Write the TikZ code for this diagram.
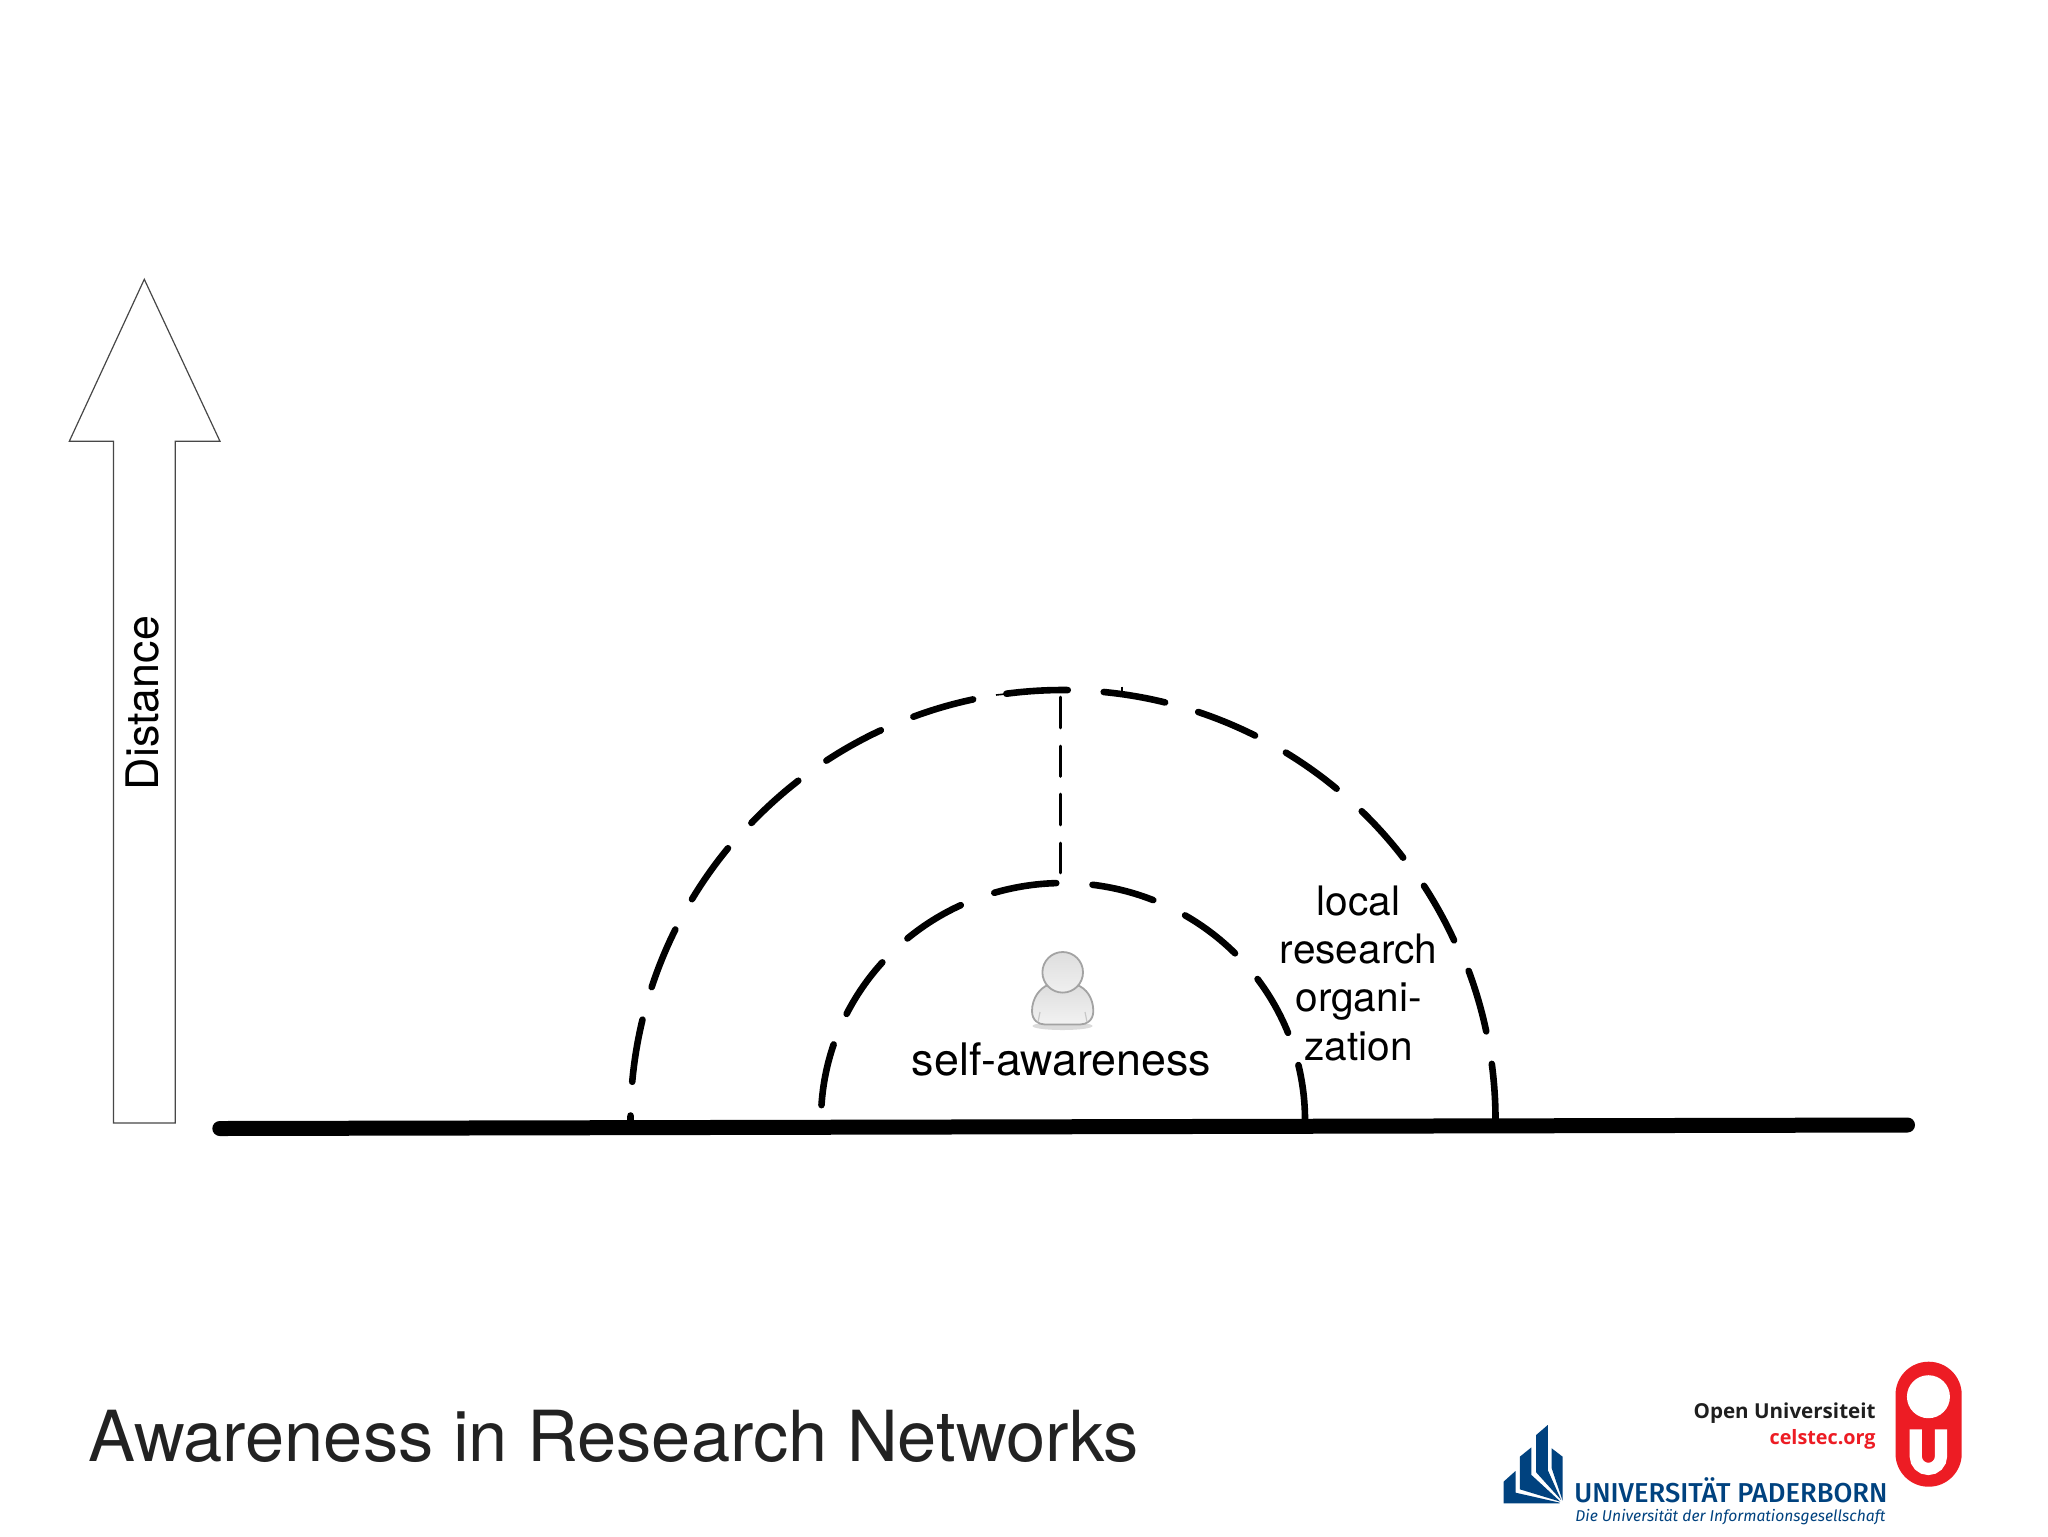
\documentclass[tikz,border=0pt]{standalone}
\usepackage{fontspec}
\setmainfont{TeX Gyre Heros}
\newfontfamily\logofont{Open Sans}
\newfontfamily\upfont{Fira Sans Medium}
\newfontfamily\upitfont{Fira Sans}
\definecolor{oured}{HTML}{ED1C24}
\definecolor{upblue}{HTML}{00427F}
\definecolor{titlegray}{HTML}{222222}
\tikzset{
  archdash/.style={line width=3.3pt,line cap=round,black},
  centerdash/.style={line width=1.3pt,line cap=round,black},
  lbl/.style={font=\fontsize{20.3}{24}\selectfont,text=black,align=center,inner sep=0pt},
  biglbl/.style={font=\fontsize{22.4}{24}\selectfont,text=black,inner sep=0pt},
}
\begin{document}
\begin{tikzpicture}[x=0.5pt,y=-0.5pt]
\useasboundingbox (0,0) rectangle (2048,1536);
\fill[white] (0,0) rectangle (2048,1536);
% arrow
\draw[line width=0.6pt,draw=black!72,fill=white] (144.3,279.3) -- (220,441.3) -- (175.3,441.3) -- (175.3,1123) -- (113.5,1123) -- (113.5,441.3) -- (69.3,441.3) -- cycle;
\node[biglbl,rotate=90,anchor=base] (dist) at (158,703) {Distance};
% arches: start angle / end angle / centre x / x radius
\foreach \a/\b/\c/\r in {180/179.4/1063.5/433,174.9/166.5/1063.5/433,162/153.7/1063.5/433,149.1/140.8/1063.5/433,136.3/127.9/1063/431,123.3/115/1063/431,110.3/102/1062.5/430,97.5/89.3/1062.5/430,84.5/76.2/1062.5/430,71.6/63.4/1062.5/430,58.7/50.4/1062.5/430,45.9/37.6/1062.5/430,33/24.7/1062.5/431,20.3/11.9/1063.5/432,7.5/0/1063.5/432}{
  \draw[archdash] ({\c+\r*cos(\a)},{1120-430*sin(\a)}) arc[start angle=-\a,end angle=-\b,x radius=\r,y radius=430];
}
\foreach \a/\b in {176.4/161.4,153.4/138.3,130/115,106.5/91.6,83/68.1,59.7/44.7,36.5/21.6,13.4/0}{
  \draw[archdash] ({1063+242*cos(\a)},{1120-237*sin(\a)}) arc[start angle=-\a,end angle=-\b,x radius=242,y radius=237];
}
\foreach \a/\b in {697/728,746/776.5,794/825,843/873}{
  \draw[centerdash] (1060.3,\a) -- (1060.3,\b);
}
\draw[line width=1pt] (1122.3,686.7) -- (1122.3,693);
\draw[line width=0.8pt] (996,695) -- (1010,693.5);
% base
\coordinate (baseL) at (219.8,1128.5);
\coordinate (baseR) at (1907.5,1125);
\draw[line width=7.5pt,line cap=round] (baseL) -- (baseR);
% person
\fill[black!35,opacity=.4] (1062.5,1026) ellipse (30 and 4);
\draw[line width=0.9pt,draw=black!36,top color=black!13,bottom color=black!5] (1032,1011)
  .. controls (1032,998) and (1040,988) .. (1048,985) -- (1077,985)
  .. controls (1086,988) and (1093.3,998) .. (1093.3,1011)
  .. controls (1093.3,1020) and (1087,1024.5) .. (1080,1024.5) -- (1045,1024.5)
  .. controls (1038,1024.5) and (1032,1020) .. (1032,1011) -- cycle;
\draw[line width=0.9pt,draw=black!36,top color=black!13,bottom color=black!6] (1062.7,972.3) circle (20.3);
\draw[line width=0.6pt,draw=black!22] (1040,1012) -- (1038,1022);
\draw[line width=0.6pt,draw=black!22] (1085,1012) -- (1087,1022);
\node[biglbl,anchor=base] (self) at (1061.5,1075) {self-awareness};
\node[lbl,anchor=base] (local1) at (1358.5,915.7) {local};
\node[lbl,anchor=base] (local2) at (1358.5,963.3) {research};
\node[lbl,anchor=base] (local3) at (1358.5,1011.7) {organi-};
\node[lbl,anchor=base] (local4) at (1358.5,1060) {zation};
% title
\node[anchor=base west,inner sep=0pt,text=titlegray,font=\fontsize{35.2}{37}\selectfont] (title) at (88,1461) {Awareness in Research Networks};
% OU logo
\fill[oured,rounded corners=16.5pt] (1895.5,1361.7) rectangle (1961.7,1486.7);
\fill[white] (1928.4,1396.7) circle (21.5);
\draw[white,line width=6.05pt] (1915.7,1429.3) -- (1915.7,1456.3) arc[start angle=180,end angle=0,radius=12.65] -- (1941,1429.3);
\node[anchor=base east,inner sep=0pt,text=black!88] (ou) at (1876,1418) {\resizebox{91pt}{!}{\logofont\bfseries\fontsize{10.3}{12}\selectfont Open Universiteit}};
\node[anchor=base east,inner sep=0pt,text=oured] (cel) at (1876,1444) {\resizebox{53pt}{!}{\logofont\bfseries\fontsize{10.3}{12}\selectfont celstec.org}};
% UP logo
\begin{scope}[shift={(1480,1340)},xscale=0.3622,yscale=0.3333]
\fill[upblue] (65,490) -- (65,425) -- (98,393) -- (98,458) -- (220,488) -- (220,490) -- cycle;
\fill[upblue] (110,350) -- (142,322) -- (142,405) -- (222,485) -- (110,448) -- cycle;
\fill[upblue] (155,285) -- (187,255) -- (187,390) -- (224,480) -- (155,397) -- cycle;
\fill[upblue] (198,325) -- (228,350) -- (228,482) -- (198,385) -- cycle;
\end{scope}
\node[anchor=base west,inner sep=0pt,text=upblue] (up) at (1574,1502) {\resizebox{156.5pt}{!}{\upfont\fontsize{12}{14}\selectfont UNIVERSITÄT PADERBORN}};
\node[anchor=base west,inner sep=0pt,text=upblue] (upsub) at (1575,1521.7) {\resizebox{155pt}{!}{\upitfont\itshape\fontsize{8}{10}\selectfont Die Universität der Informationsgesellschaft}};
\end{tikzpicture}
\end{document}
